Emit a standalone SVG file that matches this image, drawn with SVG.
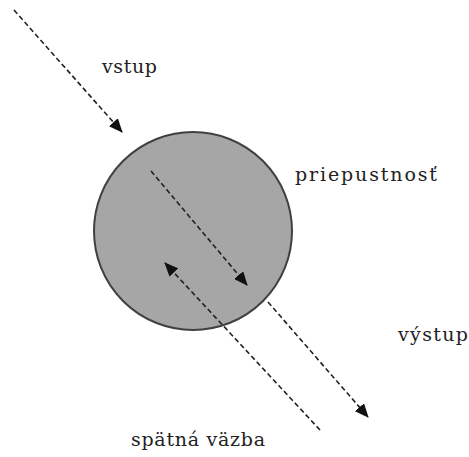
<svg xmlns="http://www.w3.org/2000/svg" width="469" height="457" viewBox="0 0 469 457">
<style>
.lbl{font-family:"DejaVu Serif","Liberation Serif",serif;font-size:19px;fill:#222}
.c{stroke:#222;stroke-width:1.6;stroke-dasharray:5 3;fill:none}
</style>
<defs>
<marker id="ah" markerWidth="14" markerHeight="12" refX="13" refY="6" orient="auto" markerUnits="userSpaceOnUse">
<path d="M0,0 L14,6 L0,12 Z" fill="#111"/>
</marker>
</defs>
<rect width="469" height="457" fill="#fff"/>
<g id="node-circle">
<circle cx="193" cy="231" r="99" fill="#a6a6a6" stroke="#404040" stroke-width="2"/>
</g>
<g id="connectors">
<line class="c" x1="14" y1="10" x2="122" y2="132" marker-end="url(#ah)"/>
<line class="c" x1="151" y1="171" x2="247" y2="285" marker-end="url(#ah)"/>
<line class="c" x1="320" y1="430" x2="165" y2="263" marker-end="url(#ah)"/>
<line class="c" x1="268" y1="302" x2="368" y2="417" marker-end="url(#ah)"/>
</g>
<g id="labels">
<text class="lbl" x="102" y="73" textLength="55">vstup</text>
<text class="lbl" x="295" y="181" textLength="142">priepustnosť</text>
<text class="lbl" x="398" y="341" textLength="70">výstup</text>
<text class="lbl" x="131" y="446" textLength="134">spätná väzba</text>
</g>
</svg>
